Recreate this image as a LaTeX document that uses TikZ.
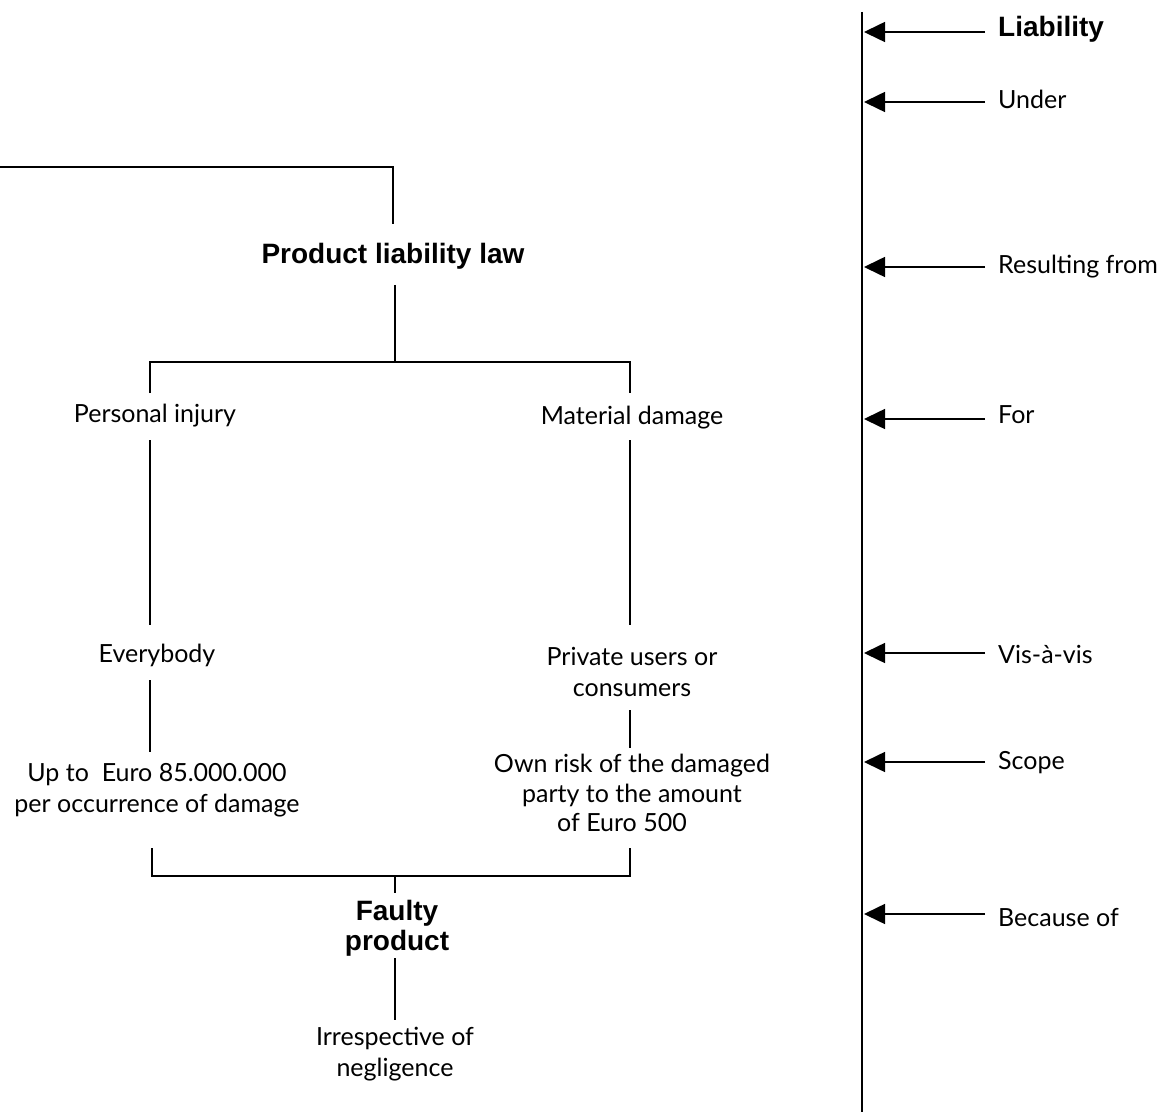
\documentclass[tikz,border=0pt]{standalone}
\usepackage{fontspec}
\setmainfont{Lato}
\newfontfamily\headfont{Liberation Sans}
\usetikzlibrary{arrows.meta}
\begin{document}
\begin{tikzpicture}[x=1pt,y=-1pt,
  lbl/.style={font=\fontsize{25}{31}\selectfont, align=center, inner sep=0pt},
  bold/.style={lbl, font=\headfont\fontsize{28}{30}\selectfont\bfseries},
  side/.style={font=\fontsize{25}{31}\selectfont, anchor=west, inner sep=0pt},
  sidebold/.style={side, font=\headfont\fontsize{28}{31}\selectfont\bfseries},
  wire/.style={line width=1.6pt},
  pointer/.style={line width=1.6pt, -{Triangle[length=21pt,width=20pt]}}]
\useasboundingbox (0,0) rectangle (1163,1118);

% axis on the right
\coordinate (axTop) at (862,12);
\coordinate (axBot) at (862,1112);
\draw[line width=2pt] (axTop) -- (axBot);

% side labels with arrows pointing to the axis
\node[sidebold] (liab) at (998,29) {Liability};
\foreach \name/\y/\txt in {under/99/Under, res/267/Resulting from, for/415/For,
  vis/654/Vis-à-vis, scope/763/Scope, because/918/Because of}{
  \node[side] (\name) at (998,\y) {\txt};
}
\foreach \name/\y in {liab/32, under/102, res/267, for/419, vis/653, scope/762, because/914}{
  \coordinate (\name-start) at (985,\y);
  \coordinate (\name-end) at (864,\y);
  \draw[pointer] (\name-start) -- (\name-end);
}

% main tree
\node[bold] (law) at (393,256) {Product liability law};
\coordinate (topL) at (0,167);
\coordinate (topR) at (393,167);
\coordinate (lawIn) at (393,224);
\draw[wire] (topL) -- (topR) -- (lawIn);

\node[lbl] (pers) at (155,416) {Personal injury};
\node[lbl] (mat) at (632,418) {Material damage};
\coordinate (lawOut) at (395,285);
\coordinate (split) at (395,362);
\coordinate (splitL) at (150,362);
\coordinate (splitR) at (630,362);
\coordinate (persIn) at (150,393);
\coordinate (matIn) at (630,393);
\draw[wire] (lawOut) -- (split);
\draw[wire] (persIn) -- (splitL) -- (splitR) -- (matIn);

\node[lbl] (every) at (157,655) {Everybody};
\node[lbl] (priv) at (632,672) {Private users or\\consumers};
\coordinate (persOut) at (150,440);
\coordinate (everyIn) at (150,625);
\coordinate (matOut) at (630,440);
\coordinate (privIn) at (630,625);
\draw[wire] (persOut) -- (everyIn);
\draw[wire] (matOut) -- (privIn);

\node[lbl] (upto) at (157,790) {Up to \ Euro 85.000.000\\per occurrence of damage};
\node[lbl, font=\fontsize{25}{29.5}\selectfont] (own) at (632,793) {Own risk of the damaged\\party to the amount\\\hspace*{-20pt}of Euro 500};
\coordinate (everyOut) at (150,680);
\coordinate (uptoIn) at (150,752);
\coordinate (privOut) at (630,710);
\coordinate (ownIn) at (630,748);
\draw[wire] (everyOut) -- (uptoIn);
\draw[wire] (privOut) -- (ownIn);

\coordinate (uptoOut) at (152,848);
\coordinate (joinL) at (152,876);
\coordinate (ownOut) at (630,848);
\coordinate (joinR) at (630,876);
\coordinate (join) at (395,876);
\coordinate (faultyIn) at (395,893);
\draw[wire] (uptoOut) -- (joinL) -- (joinR) -- (ownOut);
\draw[wire] (join) -- (faultyIn);

\node[bold] (faulty) at (397,928) {Faulty\\product};
\coordinate (faultyOut) at (395,958);
\coordinate (irrIn) at (395,1020);
\draw[wire] (faultyOut) -- (irrIn);
\node[lbl] (irr) at (395,1054) {Irrespective of\\negligence};
\end{tikzpicture}
\end{document}
